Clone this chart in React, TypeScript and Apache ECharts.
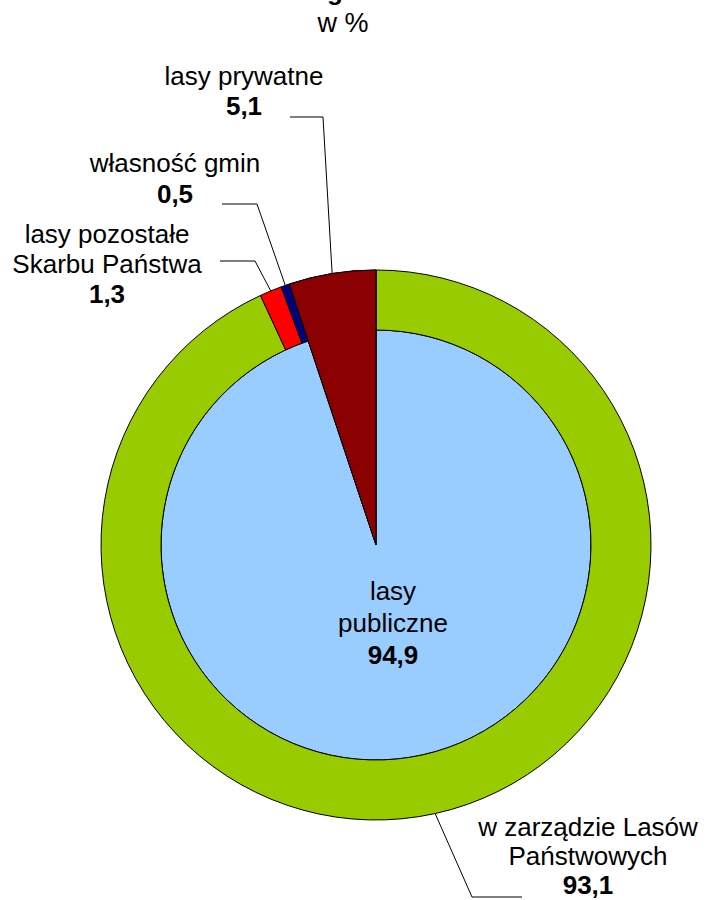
import React, { useEffect, useRef } from "react";
import * as echarts from "echarts";

// ---- data ----
const innerNames = ["lasy\npubliczne", "lasy prywatne"];
const innerValues = [94.9, 5.1];
const innerColors = ["#99CCFF", "#8B0000"];

const outerNames = [
  "w zarządzie Lasów\nPaństwowych",
  "lasy pozostałe\nSkarbu Państwa",
  "własność gmin",
  "lasy prywatne",
];
const outerValues = [93.1, 1.3, 0.5, 5.1];
const outerColors = ["#99CC00", "#FF0000", "#000080", "#8B0000"];

const titleText = "Struktura lasów według form własności";
const unitText = "w %";

// ---- layout (label placement) ----
const CX = 376;
const CY = 545;
const R_IN = 215;
const R_OUT = 275;
const FONT = "'Liberation Sans', Arial, sans-serif";

const outerLabelPos: Record<number, { x: number; y: number; lh: number; elbow: number[]; end: number[] }> = {
  0: { x: 588, y: 856, lh: 29, elbow: [472, 897], end: [522, 897] },
  1: { x: 107, y: 264, lh: 30, elbow: [255, 261], end: [220, 261] },
  2: { x: 175, y: 178, lh: 31, elbow: [257, 204], end: [222, 204] },
};
const privLabelPos = { x: 244, y: 91, elbow: [323, 117], end: [290, 117] };
const innerLabelPos = { x: 393, y: 623 };

const fmtVal = (v: number) => v.toFixed(1).replace(".", ",");
const fmtLabel = (name: string, v: number, suffix = "") =>
  name
    .split("\n")
    .map((s) => `{n${suffix}|${s}}`)
    .join("\n") + `\n{v${suffix}|${fmtVal(v)}}`;

const rich = (lh: number) => ({
  n: { fontFamily: FONT, fontSize: 26, color: "#000", lineHeight: lh, align: "center" },
  v: { fontFamily: FONT, fontSize: 26, fontWeight: "bold", color: "#000", lineHeight: lh, align: "center" },
  n0: { fontFamily: FONT, fontSize: 26, color: "#000", lineHeight: 29, align: "center" },
  v0: { fontFamily: FONT, fontSize: 26, fontWeight: "bold", color: "#000", lineHeight: 29, align: "center" },
  n2: { fontFamily: FONT, fontSize: 26, color: "#000", lineHeight: 31, align: "center" },
  v2: { fontFamily: FONT, fontSize: 26, fontWeight: "bold", color: "#000", lineHeight: 31, align: "center" },
});

const border = { borderColor: "#000", borderWidth: 1 };

export default function App() {
  const ref = useRef<HTMLDivElement>(null);
  useEffect(() => {
    document.body.style.margin = "0";
    if (!ref.current) return;
    const chart = echarts.init(ref.current, undefined, { renderer: "svg" });

    const innerData = innerValues.map((v, i) => ({
      name: innerNames[i],
      value: v,
      itemStyle: { color: innerColors[i], ...border },
      label: { show: i === 0 },
    }));

    const outerData = outerValues.map((v, i) => ({
      name: outerNames[i],
      value: v,
      itemStyle: { color: outerColors[i], ...border },
      label: { show: i < 3 },
      labelLine: { show: i < 3 },
    }));

    const overlayData = innerValues.map((v, i) => ({
      name: innerNames[i],
      value: v,
      itemStyle:
        i === 1
          ? { color: innerColors[1], ...border }
          : { color: "rgba(0,0,0,0)", borderWidth: 0 },
      label: { show: i === 1 },
      labelLine: { show: i === 1 },
    }));

    chart.setOption({
      animation: false,
      backgroundColor: "#fff",
      graphic: [
        {
          type: "text",
          x: 51,
          y: -9,
          silent: true,
          style: {
            text: titleText,
            font: `bold 26px ${FONT}`,
            fill: "#000",
            align: "left",
            verticalAlign: "middle",
          },
        },
        {
          type: "text",
          x: 343,
          y: 23,
          silent: true,
          style: {
            text: unitText,
            font: `27px ${FONT}`,
            fill: "#000",
            align: "center",
            verticalAlign: "middle",
          },
        },
      ],
      series: [
        {
          type: "pie",
          name: "inner",
          center: [CX, CY],
          radius: [0, R_IN],
          startAngle: 90,
          clockwise: true,
          avoidLabelOverlap: false,
          silent: true,
          z: 2,
          label: {
            position: "inside",
            formatter: (p: any) => fmtLabel(p.name, p.value),
            rich: rich(32),
          },
          labelLine: { show: false },
          labelLayout: () => ({
            x: innerLabelPos.x,
            y: innerLabelPos.y,
            align: "center",
            verticalAlign: "middle",
          }),
          data: innerData,
        },
        {
          type: "pie",
          name: "outer",
          center: [CX, CY],
          radius: [R_IN, R_OUT],
          startAngle: 90,
          clockwise: true,
          avoidLabelOverlap: false,
          silent: true,
          z: 2,
          label: {
            position: "outside",
            alignTo: "none",
            formatter: (p: any) =>
              fmtLabel(p.name, p.value, p.dataIndex === 0 ? "0" : p.dataIndex === 2 ? "2" : ""),
            rich: rich(30),
          },
          labelLine: {
            length: 20,
            length2: 20,
            lineStyle: { color: "#000", width: 1 },
          },
          labelLayout: (params: any) => {
            const pos = outerLabelPos[params.dataIndex];
            if (!pos) return {};
            const p0 = params.labelLinePoints ? params.labelLinePoints[0] : pos.elbow;
            return {
              x: pos.x,
              y: pos.y,
              align: "center",
              verticalAlign: "middle",
              labelLinePoints: [p0, pos.elbow, pos.end],
            };
          },
          data: outerData,
        },
        {
          type: "pie",
          name: "overlay",
          center: [CX, CY],
          radius: [0, R_OUT],
          startAngle: 90,
          clockwise: true,
          avoidLabelOverlap: false,
          silent: true,
          z: 3,
          label: {
            position: "outside",
            alignTo: "none",
            formatter: (p: any) => fmtLabel(p.name, p.value),
            rich: rich(30),
          },
          labelLine: {
            length: 20,
            length2: 20,
            lineStyle: { color: "#000", width: 1 },
          },
          labelLayout: (params: any) => {
            if (params.dataIndex !== 1) return {};
            const p0 = params.labelLinePoints ? params.labelLinePoints[0] : privLabelPos.elbow;
            return {
              x: privLabelPos.x,
              y: privLabelPos.y,
              align: "center",
              verticalAlign: "middle",
              labelLinePoints: [p0, privLabelPos.elbow, privLabelPos.end],
            };
          },
          data: overlayData,
        },
      ],
    });
    return () => chart.dispose();
  }, []);
  return <div ref={ref} style={{ width: 709, height: 900 }} />;
}
